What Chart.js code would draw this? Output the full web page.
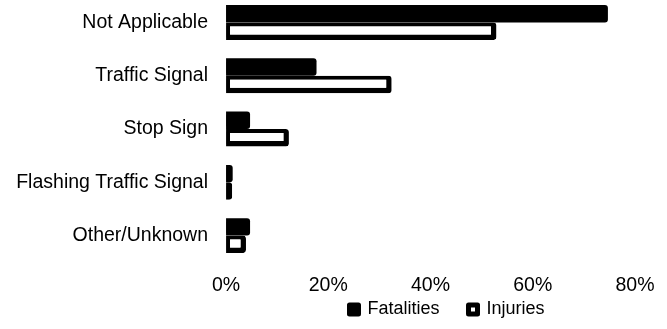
<!DOCTYPE html>
<html>
<head>
<meta charset="utf-8">
<script src="https://cdn.jsdelivr.net/npm/chart.js@4/dist/chart.umd.min.js"></script>
<style>
  html, body { margin: 0; padding: 0; background: #ffffff; }
  #wrap { width: 667px; height: 329px; position: relative; }
</style>
</head>
<body>
<div id="wrap"><canvas id="c"></canvas></div>
<script>
const categories = ['Not Applicable', 'Traffic Signal', 'Stop Sign', 'Flashing Traffic Signal', 'Other/Unknown'];
const seriesNames = ['Fatalities', 'Injuries'];
const fatalities = [74.7, 17.7, 4.7, 1.3, 4.7];
const injuries = [52.9, 32.4, 12.3, 1.2, 3.9];
const xTickValues = [0, 20, 40, 60, 80];
const xTickLabels = ['0%', '20%', '40%', '60%', '80%'];

Chart.defaults.font.family = "'Liberation Sans', Arial, sans-serif";
Chart.defaults.color = '#000000';

// Moves the legend block to its place below the axis and keeps it unclipped.
const legendOffset = {
  id: 'legendOffset',
  afterLayout(chart, args, opts) {
    const lg = chart.legend;
    if (!lg) return;
    lg.left += opts.dx; lg.right += opts.dx;
    lg.top += opts.dy;
    lg.bottom = chart.height;
    lg.width = lg.right - lg.left;
    lg.height = lg.bottom - lg.top;
  }
};

new Chart(document.getElementById('c'), {
  type: 'bar',
  data: {
    labels: categories,
    datasets: [
      {
        label: seriesNames[0],
        data: fatalities,
        backgroundColor: '#000000',
        borderColor: '#000000',
        borderWidth: 0,
        borderSkipped: false,
        borderRadius: { topLeft: 0, bottomLeft: 0, topRight: 3, bottomRight: 3 },
        clip: false
      },
      {
        label: seriesNames[1],
        data: injuries,
        backgroundColor: '#ffffff',
        borderColor: '#000000',
        borderWidth: { top: 4, left: 4, right: 5.5, bottom: 5.5 },
        borderSkipped: false,
        borderRadius: { topLeft: 0, bottomLeft: 0, topRight: 3, bottomRight: 3 },
        clip: false
      }
    ]
  },
  options: {
    indexAxis: 'y',
    responsive: true,
    maintainAspectRatio: false,
    animation: false,
    devicePixelRatio: 1,
    datasets: { bar: { categoryPercentage: 0.655, barPercentage: 1.0 } },
    layout: { padding: { top: 22.5, right: 32, bottom: 0, left: 16.2 } },
    scales: {
      x: {
        type: 'linear',
        min: 0,
        max: 80,
        afterBuildTicks(scale) { scale.ticks = xTickValues.map(v => ({ value: v })); },
        afterFit(scale) {
          scale.paddingLeft = 0; scale.paddingRight = 0;
          scale.height -= scale.options.ticks.padding;
        },
        grid: { display: false, drawTicks: false },
        border: { display: false },
        ticks: {
          padding: 38,
          font: { size: 19.5 },
          color: '#000000',
          maxRotation: 0,
          callback(value) { const i = xTickValues.indexOf(value); return i >= 0 ? xTickLabels[i] : ''; }
        }
      },
      y: {
        offset: false,
        afterFit(scale) {
          scale.paddingTop = 0; scale.paddingBottom = 0;
          scale.width -= scale.options.ticks.padding;
        },
        grid: { display: false, drawTicks: false },
        border: { display: false },
        ticks: { padding: 18, font: { size: 19.5 }, color: '#000000' }
      }
    },
    plugins: {
      tooltip: { enabled: false },
      legendOffset: { dx: 16.5, dy: -25.5 },
      legend: {
        position: 'bottom',
        fullSize: false,
        maxHeight: 32,
        labels: {
          boxWidth: 9,
          boxHeight: 9,
          padding: 29,
          color: '#000000',
          font: { size: 18 },
          generateLabels(chart) {
            const items = Chart.defaults.plugins.legend.labels.generateLabels(chart);
            return items.map(it => Object.assign(it, { lineWidth: 5, lineJoin: 'round', strokeStyle: '#000000', borderRadius: 0 }));
          }
        }
      }
    }
  },
  plugins: [legendOffset]
});
</script>
</body>
</html>
